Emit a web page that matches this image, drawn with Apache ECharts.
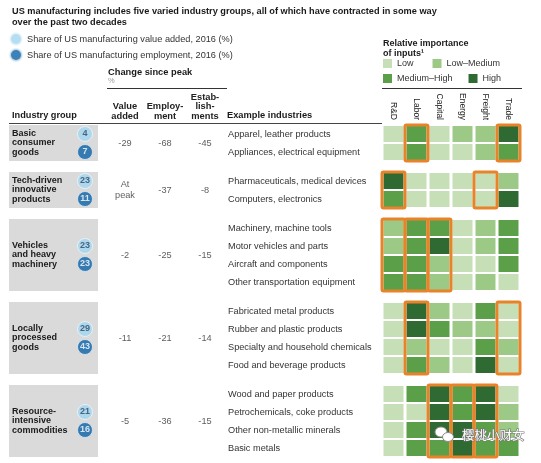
<!DOCTYPE html>
<html><head><meta charset="utf-8">
<script src="https://cdn.jsdelivr.net/npm/echarts@6/dist/echarts.min.js"></script>
<style>html,body{margin:0;padding:0;background:#fff}#c{width:541px;height:463px}</style>
</head><body><div id="c"></div>
<script>
// ---------- DATA ----------
const titleText = 'US manufacturing includes five varied industry groups, all of which have contracted in some way\nover the past two decades';
const groupNames = ['Basic\nconsumer\ngoods', 'Tech-driven\ninnovative\nproducts', 'Vehicles\nand heavy\nmachinery', 'Locally\nprocessed\ngoods', 'Resource-\nintensive\ncommodities'];
const shareValueAdded = [4, 23, 23, 29, 21];
const shareEmployment = [7, 11, 23, 43, 16];
const changeValueAdded = [-29, 'At\npeak', -2, -11, -5];
const changeEmployment = [-68, -37, -25, -21, -36];
const changeEstablishments = [-45, -8, -15, -14, -15];
const changeColumns = ['Share', 'Value added', 'Employment', 'Establishments'];
const changeHeaders = ['', 'Value\nadded', 'Employ-\nment', 'Estab-\nlish-\nments'];
const exampleIndustries = [
  ['Apparel, leather products', 'Appliances, electrical equipment'],
  ['Pharmaceuticals, medical devices', 'Computers, electronics'],
  ['Machinery, machine tools', 'Motor vehicles and parts', 'Aircraft and components', 'Other transportation equipment'],
  ['Fabricated metal products', 'Rubber and plastic products', 'Specialty and household chemicals', 'Food and beverage products'],
  ['Wood and paper products', 'Petrochemicals, coke products', 'Other non-metallic minerals', 'Basic metals']
];
const inputs = ['R&D', 'Labor', 'Capital', 'Energy', 'Freight', 'Trade'];
const levels = ['Low', 'Low–Medium', 'Medium–High', 'High'];
// importance level (index into levels) per industry, columns R&D..Trade
const importance = [
  [[0,2,0,1,1,3],[0,2,0,0,1,2]],
  [[3,0,0,0,0,1],[2,0,0,0,0,3]],
  [[1,2,2,0,1,2],[1,2,3,0,1,2],[2,2,1,0,0,2],[2,2,1,0,1,0]],
  [[0,3,1,0,2,0],[0,3,2,1,1,0],[0,1,0,0,2,1],[0,2,1,0,3,0]],
  [[0,2,3,2,3,0],[0,0,3,2,3,1],[0,2,3,3,2,1],[0,2,2,3,2,2]]
];
const highlighted = [['Labor','Trade'], ['R&D','Freight'], ['R&D','Labor','Capital'], ['Labor','Trade'], ['Capital','Energy','Freight']];
const seriesShareVA = 'Share of US manufacturing value added, 2016 (%)';
const seriesShareEmp = 'Share of US manufacturing employment, 2016 (%)';

// ---------- STYLE / LAYOUT ----------
const FONT = '"Liberation Sans", Arial, sans-serif';
const levelColors = ['#c7dfb6', '#9cca86', '#5b9f48', '#2f6a33'];
const orange = '#e8832a';
const lightBlue = '#a3d6f0', darkBlue = '#0b62a6';
const rowPitch = 18, groupGap = 11, tableTop = 125, heatLeft = 382, colPitch = 23;
const tops = [];
let t = tableTop;
exampleIndustries.forEach(rows => { tops.push(t); t += rows.length * rowPitch + groupGap; });

const grids = [], xAxes = [], yAxes = [], series = [], graphics = [];

exampleIndustries.forEach((rows, g) => {
  const h = rows.length * rowPitch;
  const center = tops[g] + h / 2;
  grids.push({left: heatLeft, top: tops[g], width: colPitch * inputs.length, height: h});
  grids.push({left: 65, top: center - 18, width: 160, height: 36});
  const hi = 2 * g, li = 2 * g + 1;
  xAxes.push({gridIndex: hi, type: 'category', data: inputs, position: 'top',
    axisLine: {show: false}, axisTick: {show: false}, splitLine: {show: false},
    axisLabel: {show: g === 0, rotate: 90, fontSize: 8.5, color: '#222', fontFamily: FONT, margin: 5, interval: 0}});
  yAxes.push({gridIndex: hi, type: 'category', data: rows, inverse: true,
    axisLine: {show: false}, axisTick: {show: false}, splitLine: {show: false},
    axisLabel: {align: 'left', margin: heatLeft - 228, fontSize: 9.2, color: '#333', fontFamily: FONT, interval: 0}});
  xAxes.push({gridIndex: li, type: 'category', data: changeColumns, position: 'top',
    axisLine: {show: false}, axisTick: {show: false}, splitLine: {show: false},
    axisLabel: {show: g === 0, interval: 0, fontSize: 9.3, fontWeight: 'bold', color: '#222', fontFamily: FONT, margin: 4, lineHeight: 9.5,
      formatter: (v, i) => changeHeaders[i]}});
  yAxes.push({gridIndex: li, type: 'value', min: 0, max: 2, inverse: true, show: false});

  const cells = [];
  rows.forEach((r, ri) => importance[g][ri].forEach((lv, ci) => cells.push([ci, ri, lv])));
  series.push({type: 'custom', xAxisIndex: hi, yAxisIndex: hi, data: cells, z: 3,
    renderItem: (params, api) => {
      const p = api.coord([api.value(0), api.value(1)]);
      const s = api.size([1, 1]);
      const w = s[0] - 3, hh = s[1] - 2;
      return {type: 'rect', shape: {x: p[0] - w / 2, y: p[1] - hh / 2, width: w, height: hh},
        style: {fill: levelColors[api.value(2)]}};
    }});
  const nRows = rows.length;
  series.push({type: 'custom', xAxisIndex: hi, yAxisIndex: hi, z: 4,
    data: highlighted[g].map(name => [inputs.indexOf(name), 0]),
    renderItem: (params, api) => {
      const p = api.coord([api.value(0), 0]);
      const s = api.size([1, 1]);
      return {type: 'rect', shape: {x: p[0] - s[0] / 2, y: p[1] - s[1] / 2, width: s[0], height: s[1] * nRows, r: 1.5},
        style: {fill: 'none', stroke: orange, lineWidth: 3}};
    }});
  series.push({type: 'scatter', name: seriesShareVA, xAxisIndex: li, yAxisIndex: li, z: 5,
    symbolSize: 15, itemStyle: {color: lightBlue, borderColor: '#eef6fb', borderWidth: 1},
    label: {show: true, position: 'inside', fontSize: 9, fontWeight: 'bold', color: '#2a4a6a', fontFamily: FONT, formatter: p => p.value[2]},
    data: [[0, 0.5, shareValueAdded[g]]]});
  series.push({type: 'scatter', name: seriesShareEmp, xAxisIndex: li, yAxisIndex: li, z: 5,
    symbolSize: 15, itemStyle: {color: darkBlue, borderColor: '#dfeaf3', borderWidth: 1},
    label: {show: true, position: 'inside', fontSize: 9, fontWeight: 'bold', color: '#fff', fontFamily: FONT, formatter: p => p.value[2]},
    data: [[0, 1.5, shareEmployment[g]]]});
  series.push({type: 'scatter', xAxisIndex: li, yAxisIndex: li, z: 5, symbolSize: 1, silent: true,
    itemStyle: {color: 'rgba(0,0,0,0)'},
    label: {show: true, position: 'inside', fontSize: 9.2, color: '#333', fontFamily: FONT, lineHeight: 11, formatter: p => p.value[2]},
    data: [[1, 1, changeValueAdded[g]], [2, 1, changeEmployment[g]], [3, 1, changeEstablishments[g]]]});

  graphics.push({type: 'rect', z: 0, shape: {x: 9, y: tops[g], width: 89, height: h}, style: {fill: '#dadada'}});
  graphics.push({type: 'text', z: 1, x: 12, y: center, style: {text: groupNames[g], fill: '#1a1a1a',
    font: 'bold 9px ' + FONT, lineHeight: 9.8, textAlign: 'left', textVerticalAlign: 'middle'}});
});

levels.forEach((lv, i) => series.push({type: 'custom', name: lv, xAxisIndex: 0, yAxisIndex: 0, data: [],
  itemStyle: {color: levelColors[i]}, renderItem: () => null}));

graphics.push(
  {type: 'text', x: 108, y: 72, style: {text: 'Change since peak', fill: '#1a1a1a', font: 'bold 9.3px ' + FONT, textVerticalAlign: 'middle'}},
  {type: 'text', x: 108, y: 81, style: {text: '%', fill: '#999', font: '7.5px ' + FONT, textVerticalAlign: 'middle'}},
  {type: 'line', shape: {x1: 107, y1: 88.5, x2: 227, y2: 88.5}, style: {stroke: '#333', lineWidth: 1}},
  {type: 'text', x: 12, y: 115.5, style: {text: 'Industry group', fill: '#1a1a1a', font: 'bold 9.2px ' + FONT, textVerticalAlign: 'middle'}},
  {type: 'text', x: 227, y: 115.5, style: {text: 'Example industries', fill: '#1a1a1a', font: 'bold 9.3px ' + FONT, textVerticalAlign: 'middle'}},
  {type: 'line', shape: {x1: 9, y1: 123.5, x2: 382, y2: 123.5}, style: {stroke: '#444', lineWidth: 1}},
  {type: 'text', x: 383, y: 38.5, style: {text: 'Relative importance\nof inputs¹', fill: '#1a1a1a', font: 'bold 9px ' + FONT, lineHeight: 9.8}},
  {type: 'line', shape: {x1: 382, y1: 88.5, x2: 522, y2: 88.5}, style: {stroke: '#333', lineWidth: 1}},
  {type: 'ellipse', z: 100, shape: {cx: 441, cy: 432, rx: 6, ry: 5}, style: {fill: '#fff', stroke: '#888', lineWidth: 1}},
  {type: 'ellipse', z: 100, shape: {cx: 448, cy: 437, rx: 5.5, ry: 4.5}, style: {fill: '#fff', stroke: '#888', lineWidth: 1}},
  {type: 'text', z: 100, x: 462, y: 435, style: {text: '樱桃小财女', fill: '#fff', font: '12.5px "Noto Sans CJK SC"', textVerticalAlign: 'middle',
    stroke: '#777', lineWidth: 1.2}}
);

const chart = echarts.init(document.getElementById('c'), null, {renderer: 'canvas'});
chart.setOption({
  animation: false,
  backgroundColor: '#fff',
  title: {text: titleText, left: 7, top: 1, textStyle: {fontSize: 9.2, fontWeight: 'bold', color: '#1a1a1a', fontFamily: FONT, lineHeight: 11}},
  legend: [
    {data: [seriesShareVA, seriesShareEmp], orient: 'vertical', left: 9, top: 32, padding: 0, itemGap: 2, itemWidth: 12, itemHeight: 12, icon: 'circle',
      selectedMode: false, textStyle: {fontSize: 9.2, color: '#333', fontFamily: FONT}},
    {data: ['Low', 'Low–Medium'], left: 383, top: 59, padding: 0, itemGap: 19, itemWidth: 9, itemHeight: 9, icon: 'rect', selectedMode: false,
      textStyle: {fontSize: 9, color: '#333', fontFamily: FONT}},
    {data: ['Medium–High', 'High'], left: 383, top: 74, padding: 0, itemGap: 16, itemWidth: 9, itemHeight: 9, icon: 'rect', selectedMode: false,
      textStyle: {fontSize: 9, color: '#333', fontFamily: FONT}}
  ],
  grid: grids,
  xAxis: xAxes,
  yAxis: yAxes,
  series: series,
  graphic: graphics
});
</script></body></html>
